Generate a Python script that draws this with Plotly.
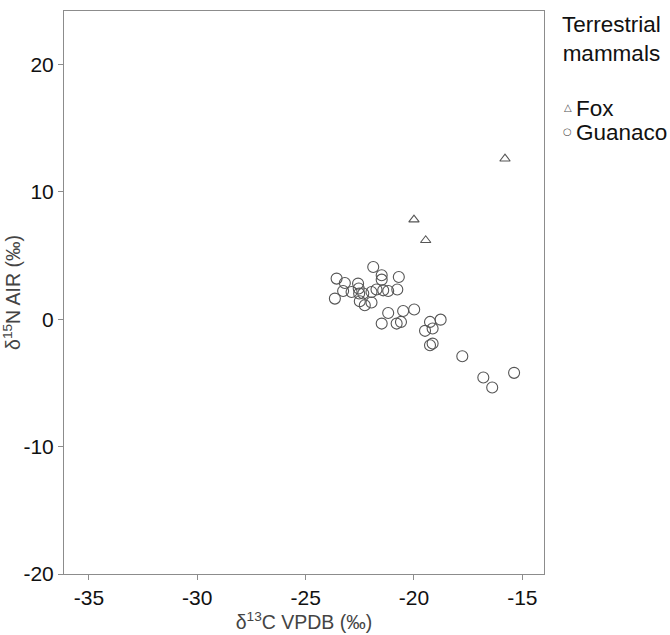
import plotly.graph_objects as go

# Stable isotope values (per mil)
fox_d13c = [-15.8, -20.0, -19.46]
fox_d15n = [12.6, 7.82, 6.2]

guanaco_d13c = [
    -21.88, -23.57, -23.19, -22.58, -21.49, -21.49, -20.70, -23.27, -23.65,
    -22.88, -22.55, -22.53, -22.34, -21.96, -21.73, -21.42, -21.19, -20.77,
    -22.50, -22.27, -21.96, -21.19, -20.50, -19.99, -21.49, -20.80, -20.60,
    -19.26, -18.77, -19.49, -19.14, -19.26, -19.14, -17.77, -16.80, -16.39,
    -15.38,
]
guanaco_d15n = [
    4.10, 3.19, 2.85, 2.80, 3.45, 3.11, 3.32, 2.22, 1.62,
    2.14, 2.41, 2.02, 2.02, 2.14, 2.33, 2.27, 2.22, 2.33,
    1.41, 1.10, 1.31, 0.49, 0.65, 0.76, -0.34, -0.34, -0.21,
    -0.21, -0.03, -0.91, -0.73, -2.04, -1.91, -2.90, -4.57, -5.36,
    -4.21,
]

x_ticks = [-35, -30, -25, -20, -15]
y_ticks = [-20, -10, 0, 10, 20]

legend_title = "Terrestrial<br>mammals"
legend_names = ["Fox", "Guanaco"]
legend_glyphs = ["△", "○"]

FONT = "Arial, Liberation Sans, sans-serif"
MARK = "#555555"
FRAME = "#8c8c8c"
TEXT = "#111111"

fig = go.Figure()

fig.add_trace(go.Scatter(
    x=fox_d13c, y=fox_d15n, mode="markers", name=legend_names[0],
    marker=dict(symbol="triangle-up-open", size=9, color=MARK, line=dict(width=1.1)),
))
fig.add_trace(go.Scatter(
    x=guanaco_d13c, y=guanaco_d15n, mode="markers", name=legend_names[1],
    marker=dict(symbol="circle-open", size=11, color=MARK, line=dict(width=1.1)),
))

axis_common = dict(
    showgrid=False, zeroline=False, showline=True, linecolor=FRAME, linewidth=1,
    mirror=True, ticks="outside", ticklen=5, tickcolor=FRAME,
    tickfont=dict(family=FONT, size=21, color=TEXT),
)

# Legend block on the right, placed in pixels from the plot's top-right corner
annotations = [dict(
    text=legend_title, xref="paper", yref="paper", x=1, y=1,
    xshift=67, yshift=-28, xanchor="center", yanchor="middle", align="center",
    showarrow=False, font=dict(family=FONT, size=22.5, color=TEXT),
)]
for i, (glyph, name) in enumerate(zip(legend_glyphs, legend_names)):
    annotations.append(dict(
        text=glyph, xref="paper", yref="paper", x=1, y=1,
        xshift=23.5, yshift=-(96 + 24 * i), xanchor="center", yanchor="middle",
        showarrow=False, font=dict(family="DejaVu Sans", size=10, color=MARK),
    ))
    annotations.append(dict(
        text=name, xref="paper", yref="paper", x=1, y=1,
        xshift=30, yshift=-(97 + 24 * i), xanchor="left", yanchor="middle",
        showarrow=False, font=dict(family=FONT, size=22.5, color=TEXT),
    ))

fig.update_layout(
    width=670, height=635,
    margin=dict(l=64, r=126, t=11, b=61, autoexpand=False),
    paper_bgcolor="white", plot_bgcolor="white",
    showlegend=False,
    xaxis=dict(
        range=[-36.15, -14.0], tickvals=x_ticks, ticktext=[str(v) for v in x_ticks],
        title=dict(text="δ<sup>13</sup>C VPDB (‰)", standoff=0,
                   font=dict(family=FONT, size=19.5, color="#444444")),
        **axis_common,
    ),
    yaxis=dict(
        range=[-20, 24.2], tickvals=y_ticks, ticktext=[str(v) for v in y_ticks],
        title=dict(text="δ<sup>15</sup>N AIR (‰)", standoff=6,
                   font=dict(family=FONT, size=19.5, color="#444444")),
        **axis_common,
    ),
    annotations=annotations,
)

fig.write_html("out.html")
